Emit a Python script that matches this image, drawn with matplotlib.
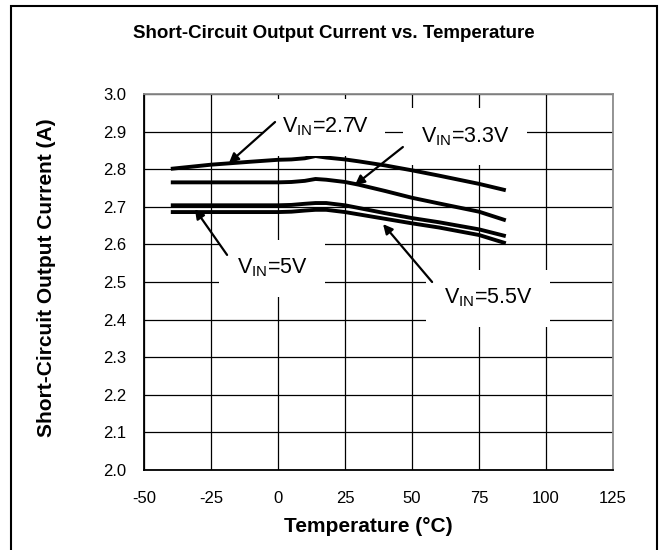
import matplotlib
matplotlib.use("Agg")
import matplotlib.pyplot as plt
from matplotlib.patches import Rectangle

plt.rcParams.update({
    "font.family": "Liberation Sans",
    "mathtext.fontset": "custom",
    "mathtext.rm": "Liberation Sans",
    "mathtext.default": "regular",
    "axes.unicode_minus": False,
})

# temperature (deg C)
temp = [-40, -25, -10, 0, 5, 10, 14, 18, 25, 30, 40, 50, 60, 75, 85]
# short-circuit output current (A)
i_27 = [2.801, 2.812, 2.820, 2.825, 2.826, 2.829, 2.835, 2.831, 2.826, 2.821, 2.810, 2.797, 2.783, 2.761, 2.744]
i_33 = [2.765, 2.765, 2.765, 2.765, 2.766, 2.769, 2.774, 2.772, 2.766, 2.759, 2.742, 2.724, 2.709, 2.687, 2.664]
i_50 = [2.704, 2.704, 2.704, 2.704, 2.705, 2.708, 2.710, 2.710, 2.704, 2.697, 2.683, 2.670, 2.659, 2.640, 2.622]
i_55 = [2.686, 2.686, 2.686, 2.686, 2.687, 2.690, 2.692, 2.692, 2.686, 2.680, 2.668, 2.656, 2.645, 2.625, 2.603]

xticks = [-50, -25, 0, 25, 50, 75, 100, 125]
yticks = [2.0, 2.1, 2.2, 2.3, 2.4, 2.5, 2.6, 2.7, 2.8, 2.9, 3.0]

# label text, text position, arrow head position, arrow tail position
labels = [
    (r"V$_{IN}$=2.7V", (17.5, 2.912), (-18.3, 2.8165), (-1.1, 2.9255)),
    (r"V$_{IN}$=3.3V", (69.8, 2.886), (28.7, 2.758), (46.6, 2.859)),
    (r"V$_{IN}$=5V", (-2.2, 2.537), (-31.0, 2.694), (-19.0, 2.572)),
    (r"V$_{IN}$=5.5V", (78.4, 2.457), (39.2, 2.654), (57.5, 2.500)),
]

fig = plt.figure(figsize=(6.61, 5.5), dpi=100)
ax = fig.add_axes([144/661, 1-470/550, 469/661, 376/550])

for y in (i_27, i_33, i_50, i_55):
    ax.plot(temp, y, color="black", lw=2.8, solid_capstyle="butt", zorder=3)

ax.set_xlim(-50, 125)
ax.set_ylim(2.0, 3.0)
ax.set_xticks(xticks)
ax.set_yticks(yticks)
ax.set_yticklabels([f"{v:.1f}" for v in yticks])
ax.tick_params(length=0, labelsize=12, pad=13)
ax.tick_params(axis="x", pad=15)
ax.grid(True, color="black", lw=0.9, zorder=1)
ax.set_axisbelow(True)
for s in ("left", "bottom"):
    ax.spines[s].set_linewidth(1.3)
for s in ("top", "right"):
    ax.spines[s].set_color("0.55")
    ax.spines[s].set_linewidth(1.3)

for txt, pos, head, tail in labels:
    ax.text(pos[0], pos[1], txt, fontsize=15.5, ha="center", va="center", zorder=4,
            bbox=dict(boxstyle="square,pad=0.8", fc="white", ec="none"))
    ax.annotate("", xy=head, xytext=tail, zorder=5,
                arrowprops=dict(arrowstyle="-|>", color="black", lw=1.6,
                                mutation_scale=14, shrinkA=0, shrinkB=0))

fig.text(0.505, 1-33/550, "Short-Circuit Output Current vs. Temperature",
         ha="center", va="center", fontsize=13.5, fontweight="bold")
fig.text(0.071, 1-278/550, "Short-Circuit Output Current (A)", rotation=90,
         ha="center", va="center", fontsize=15, fontweight="bold")
fig.text(0.557, 1-527/550, "Temperature (\u00b0C)",
         ha="center", va="center", fontsize=15, fontweight="bold")

# outer frame
fig.patches.append(Rectangle((11/661, -0.05), 646/661, 1.05-6/550,
                             transform=fig.transFigure, fill=False,
                             ec="black", lw=1.5))

fig.savefig("out.png", dpi=100)
